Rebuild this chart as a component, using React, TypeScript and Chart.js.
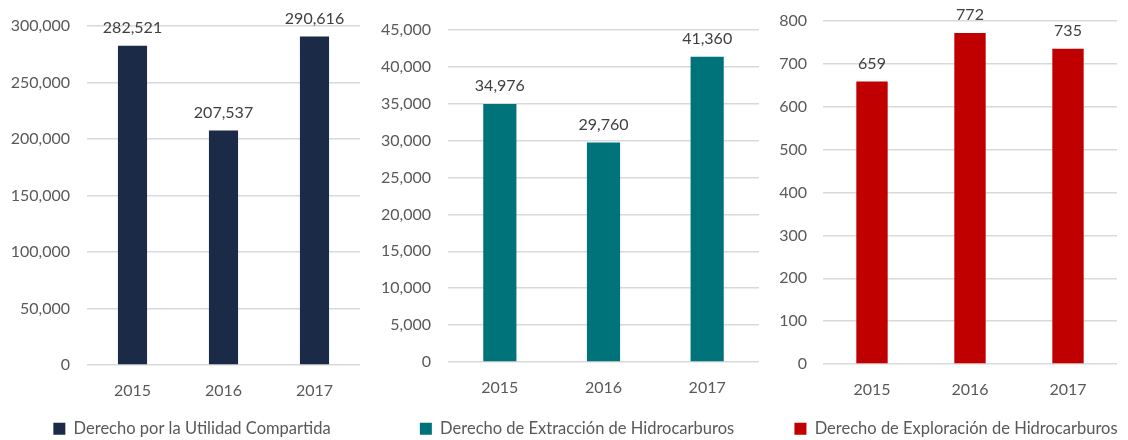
import React, { useEffect, useRef } from "react";
import { Chart, registerables } from "chart.js";

Chart.register(...registerables);

const years = ["2015", "2016", "2017"];
const utilidadValues = [282521, 207537, 290616];
const extraccionValues = [34976, 29760, 41360];
const exploracionValues = [659, 772, 735];
const seriesNames = [
  "Derecho por la Utilidad Compartida",
  "Derecho de Extracción de Hidrocarburos",
  "Derecho de Exploración de Hidrocarburos",
];
const yMaxes = [300000, 45000, 800];
const ySteps = [50000, 5000, 100];

const FONT = "Lato";
const fmt = (v: number) => v.toLocaleString("en-US");

const valueLabels = {
  id: "valueLabels",
  afterDatasetsDraw(chart: any) {
    const ctx = chart.ctx;
    ctx.save();
    ctx.font = `16px ${FONT}`;
    ctx.fillStyle = "#404040";
    ctx.textAlign = "center";
    ctx.textBaseline = "bottom";
    chart.data.datasets.forEach((ds: any, i: number) => {
      chart.getDatasetMeta(i).data.forEach((el: any, j: number) => {
        ctx.fillText(fmt(ds.data[j]), el.x, el.y - 10);
      });
    });
    ctx.restore();
  },
};

const legendShift = {
  id: "legendShift",
  afterLayout(chart: any, _args: any, opts: any) {
    const dx = (opts && opts.dx) || 0;
    if (chart.legend) {
      chart.legend.left += dx;
      chart.legend.right += dx;
    }
  },
};

type PanelProps = {
  left: number;
  width: number;
  values: number[];
  name: string;
  color: string;
  yMax: number;
  yStep: number;
  axisWidth: number;
  padRight: number;
  padTop: number;
  xAxisHeight: number;
  tickPad: number;
  legendDx: number;
};

const H = 447;

function Panel(p: PanelProps) {
  const ref = useRef<HTMLCanvasElement>(null);
  useEffect(() => {
    if (!ref.current) return;
    const chart = new Chart(ref.current, {
      type: "bar",
      data: {
        labels: years,
        datasets: [
          {
            label: p.name,
            data: p.values,
            backgroundColor: p.color,
            borderWidth: 0,
            categoryPercentage: 1,
            barPercentage: 0.32,
          },
        ],
      },
      options: {
        responsive: true,
        maintainAspectRatio: false,
        animation: false,
        layout: { padding: { left: 0, right: p.padRight, top: p.padTop, bottom: 0 } },
        plugins: {
          tooltip: { enabled: false },
          legendShift: { dx: p.legendDx },
          legend: {
            position: "bottom",
            labels: {
              boxWidth: 12,
              boxHeight: 12,
              padding: 10,
              color: "#595959",
              font: { family: FONT, size: 16.5 },
            },
          },
        },
        scales: {
          x: {
            grid: { display: false, drawTicks: false },
            border: { display: false },
            ticks: { color: "#595959", font: { family: FONT, size: 16 }, padding: 16 },
            afterFit: (s: any) => {
              s.height = p.xAxisHeight;
            },
          },
          y: {
            min: 0,
            max: p.yMax,
            grid: { color: "#d9d9d9", lineWidth: 1.5, drawTicks: false },
            border: { display: false },
            ticks: {
              stepSize: p.yStep,
              color: "#595959",
              font: { family: FONT, size: 16 },
              padding: p.tickPad,
              callback: (v: any) => fmt(Number(v)),
            },
            afterFit: (s: any) => {
              s.width = p.axisWidth;
              s.paddingTop = 0;
              s.paddingBottom = 0;
            },
          },
        },
      },
      plugins: [valueLabels, legendShift],
    } as any);
    return () => chart.destroy();
  }, []);
  return (
    <div style={{ position: "absolute", left: p.left, top: 0, width: p.width, height: H }}>
      <canvas ref={ref} />
    </div>
  );
}

export default function App() {
  return (
    <div
      style={{
        position: "absolute",
        left: 0,
        top: 0,
        width: 1128,
        height: 440,
        overflow: "hidden",
        background: "#fff",
      }}
    >
      <Panel left={0} width={385} values={utilidadValues} name={seriesNames[0]} color="#1B2A47"
        yMax={yMaxes[0]} yStep={ySteps[0]} axisWidth={87} padRight={25} padTop={26}
        xAxisHeight={45.5} tickPad={17} legendDx={12} />
      <Panel left={370} width={400} values={extraccionValues} name={seriesNames[1]} color="#00737A"
        yMax={yMaxes[1]} yStep={ySteps[1]} axisWidth={78} padRight={11} padTop={30}
        xAxisHeight={48.5} tickPad={17} legendDx={12.5} />
      <Panel left={760} width={368} values={exploracionValues} name={seriesNames[2]} color="#C00000"
        yMax={yMaxes[2]} yStep={ySteps[2]} axisWidth={63} padRight={11} padTop={21}
        xAxisHeight={46.5} tickPad={16} legendDx={17.5} />
    </div>
  );
}
